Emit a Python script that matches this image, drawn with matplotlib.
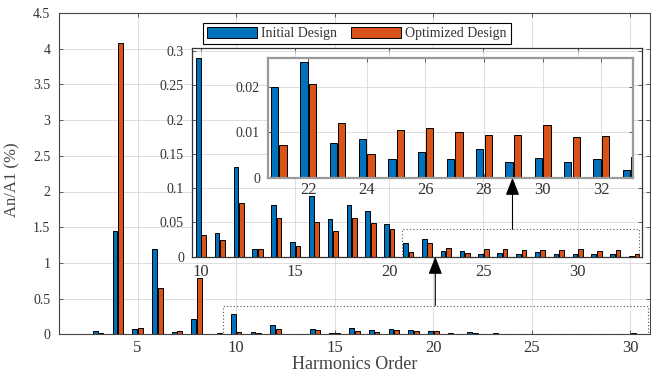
import matplotlib
matplotlib.use("Agg")
import matplotlib.pyplot as plt
from matplotlib.patches import Rectangle
import numpy as np

plt.rcParams['font.family'] = ['Liberation Serif', 'DejaVu Serif']

# harmonic amplitudes relative to the fundamental, in %
harmonics = np.arange(2, 34)
initial = [0, 0.05, 1.45, 0.07, 1.19, 0.033, 0.22, 0.008, 0.29, 0.035,
           0.131, 0.0107, 0.075, 0.021, 0.089, 0.055, 0.076, 0.067, 0.047, 0.020,
           0.0253, 0.0077, 0.0084, 0.0040, 0.0056, 0.0042, 0.0064, 0.0034, 0.0043,
           0.0034, 0.0042, 0.0016]
optimized = [0, 0.022, 4.08, 0.092, 0.65, 0.046, 0.79, 0.012, 0.032, 0.024,
             0.079, 0.0107, 0.057, 0.0156, 0.050, 0.037, 0.057, 0.049, 0.041, 0.0071,
             0.0206, 0.012, 0.0051, 0.0105, 0.0108, 0.010, 0.0093, 0.0093, 0.0115,
             0.009, 0.0092, 0.0045]
labels = ['Initial Design', 'Optimized Design']

blue = '#0072BD'
orange = '#D95319'
txt = '#333333'
bw = 0.25
off = 0.145

fig = plt.figure(figsize=(6.51, 3.76), dpi=100)

def draw(ax, xlim, ylim, xticks, yticks, xfs, yfs, xpad, ypad):
    b1 = ax.bar(harmonics - off, initial, bw, color=blue, edgecolor='black', linewidth=0.7)
    b2 = ax.bar(harmonics + off, optimized, bw, color=orange, edgecolor='black', linewidth=0.7)
    ax.set_xlim(*xlim)
    ax.set_ylim(*ylim)
    ax.set_xticks(xticks)
    ax.set_yticks(yticks)
    ax.set_yticklabels([('%g' % t) for t in yticks])
    ax.grid(True, color='#d8d8d8', linewidth=0.6)
    ax.set_axisbelow(True)
    ax.tick_params(direction='in', length=3, width=0.6, colors='#444444',
                   top=True, right=True, labelcolor=txt)
    ax.tick_params(axis='x', labelsize=xfs, pad=xpad)
    ax.tick_params(axis='y', labelsize=yfs, pad=ypad)
    return b1, b2

main = fig.add_axes([58.7 / 651, 41.7 / 376, 591.5 / 651, 321.3 / 376])
bars = draw(main, (1, 31), (0, 4.5), [5, 10, 15, 20, 25, 30],
            np.arange(0, 4.51, 0.5), 12, 10, 4, 6)
for s in main.spines.values():
    s.set_color('#444444')
    s.set_linewidth(0.8)
main.set_xlabel('Harmonics Order', fontsize=13, color='#444444', labelpad=0)
main.set_ylabel('An/A1 (%)', fontsize=12, color='#444444')
main.yaxis.set_label_coords(-0.065, 0.48)

# zoomed region of harmonics 10-33
ins1 = fig.add_axes([0.2954, 0.3173, 0.6903, 0.5559])
draw(ins1, (9.54, 33.4), (0, 0.305), [10, 15, 20, 25, 30],
     [0, 0.05, 0.1, 0.15, 0.2, 0.25, 0.3], 12, 10, 5, 6)
for s in ins1.spines.values():
    s.set_color('#333333')
    s.set_linewidth(0.9)

# zoomed region of harmonics 21-33
ins2 = fig.add_axes([0.4121, 0.5274, 0.5607, 0.3176])
draw(ins2, (20.64, 33.09), (0, 0.0262), [22, 24, 26, 28, 30, 32],
     [0, 0.01, 0.02], 12, 10, 3, 6)
for s in ins2.spines.values():
    s.set_color('#9a9a9a')
    s.set_linewidth(1.6)

# dotted boxes marking the zoomed regions
main.add_patch(Rectangle((9.35, 0), 30.9 - 9.35, 0.4, fill=False, ls=(0, (1, 2)),
                         edgecolor='#555555', linewidth=0.8, zorder=5))
ins1.add_patch(Rectangle((20.7, 0), 33.28 - 20.7, 0.04, fill=False, ls=(0, (1, 2)),
                         edgecolor='#555555', linewidth=0.8, zorder=5))

arrow = dict(arrowstyle='-|>,head_length=0.9,head_width=0.35', color='black',
             lw=0.8, shrinkA=0, shrinkB=0, mutation_scale=12)
main.annotate('', xy=(20.1, 0), xycoords=(main.transData, ins1.transAxes),
              xytext=(20.1, 0.4), textcoords='data', arrowprops=arrow)
ins1.annotate('', xy=(26.54, 0), xycoords=(ins1.transData, ins2.transAxes),
              xytext=(26.54, 0.04), textcoords='data', arrowprops=arrow)

leg = fig.legend(bars, labels, ncol=2, loc='upper center',
                 bbox_to_anchor=(356.7 / 651, 1 - 22.5 / 376), fontsize=10,
                 fancybox=False, edgecolor='black', framealpha=1,
                 handlelength=3.6, handleheight=0.9, handletextpad=0.3,
                 columnspacing=1.0, borderpad=0.3, borderaxespad=0)
leg.get_frame().set_linewidth(0.8)
for t in leg.get_texts():
    t.set_color(txt)

fig.savefig('out.png', dpi=100)
